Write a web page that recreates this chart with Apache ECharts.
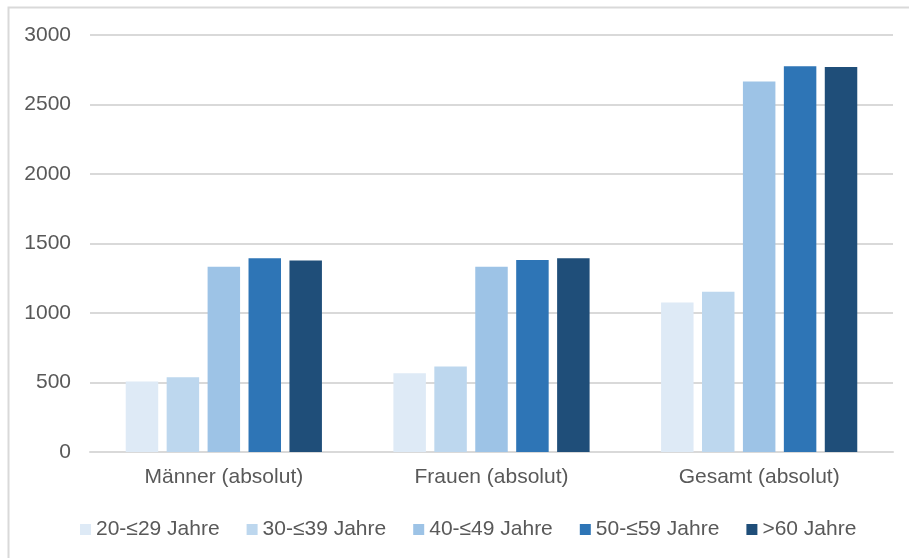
<!DOCTYPE html>
<html>
<head>
<meta charset="utf-8">
<script src="https://cdn.jsdelivr.net/npm/echarts@6/dist/echarts.min.js"></script>
<style>
  html, body { margin: 0; padding: 0; background: #ffffff; }
  #chart { width: 909px; height: 558px; }
</style>
</head>
<body>
<div id="chart"></div>
<script>
// Gruppen auf der x-Achse
const categories = ['Männer (absolut)', 'Frauen (absolut)', 'Gesamt (absolut)'];

// Altersgruppen (Legende)
const ageGroups = ['20-≤29 Jahre', '30-≤39 Jahre', '40-≤49 Jahre', '50-≤59 Jahre', '>60 Jahre'];

// Werte je Altersgruppe: [Männer, Frauen, Gesamt]
const age20to29 = [508, 567, 1075];
const age30to39 = [538, 615, 1153];
const age40to49 = [1333, 1333, 2666];
const age50to59 = [1394, 1382, 2776];
const age60plus = [1377, 1393, 2770];

const seriesValues = [age20to29, age30to39, age40to49, age50to59, age60plus];
const seriesColors = ['#DEEAF6', '#BDD7EE', '#9DC3E6', '#2E75B6', '#1F4E79'];

// Achsenbereich
const yMin = 0;
const yMax = 3000;
const yStep = 500;

const FONT = '"Liberation Sans", Arial, sans-serif';
const TEXT_COLOR = '#595959';
const GRID_COLOR = '#D9D9D9';

const chart = echarts.init(document.getElementById('chart'), null, { renderer: 'canvas' });

chart.setOption({
  backgroundColor: '#ffffff',
  animation: false,
  textStyle: { fontFamily: FONT },
  graphic: [{
    type: 'rect',
    left: 6,
    top: 5,
    shape: { width: 1000, height: 1000 },
    style: { fill: 'none', stroke: GRID_COLOR, lineWidth: 2 },
    silent: true,
    z: -1
  }],
  grid: { left: 90, right: 16, top: 35, bottom: 106, containLabel: false },
  legend: {
    data: ageGroups,
    left: 75,
    top: 514,
    itemWidth: 11,
    itemHeight: 11,
    itemGap: 27,
    icon: 'rect',
    textStyle: { fontFamily: FONT, fontSize: 21, color: TEXT_COLOR, padding: [0, 0, 0, 0] }
  },
  xAxis: {
    type: 'category',
    data: categories,
    axisTick: { show: false },
    axisLine: { show: true, lineStyle: { color: GRID_COLOR, width: 2 } },
    axisLabel: { fontFamily: FONT, fontSize: 21, color: TEXT_COLOR, margin: 15 }
  },
  yAxis: {
    type: 'value',
    min: yMin,
    max: yMax,
    interval: yStep,
    axisLine: { show: false },
    axisTick: { show: false },
    splitLine: { lineStyle: { color: GRID_COLOR, width: 2 } },
    axisLabel: {
      fontFamily: FONT, fontSize: 21, color: TEXT_COLOR, margin: 19,
      formatter: (v) => String(v)
    }
  },
  series: ageGroups.map((name, i) => ({
    name: name,
    type: 'bar',
    data: seriesValues[i],
    barGap: '26%',
    barCategoryGap: '26.7%',
    itemStyle: { color: seriesColors[i] }
  }))
});
</script>
</body>
</html>
